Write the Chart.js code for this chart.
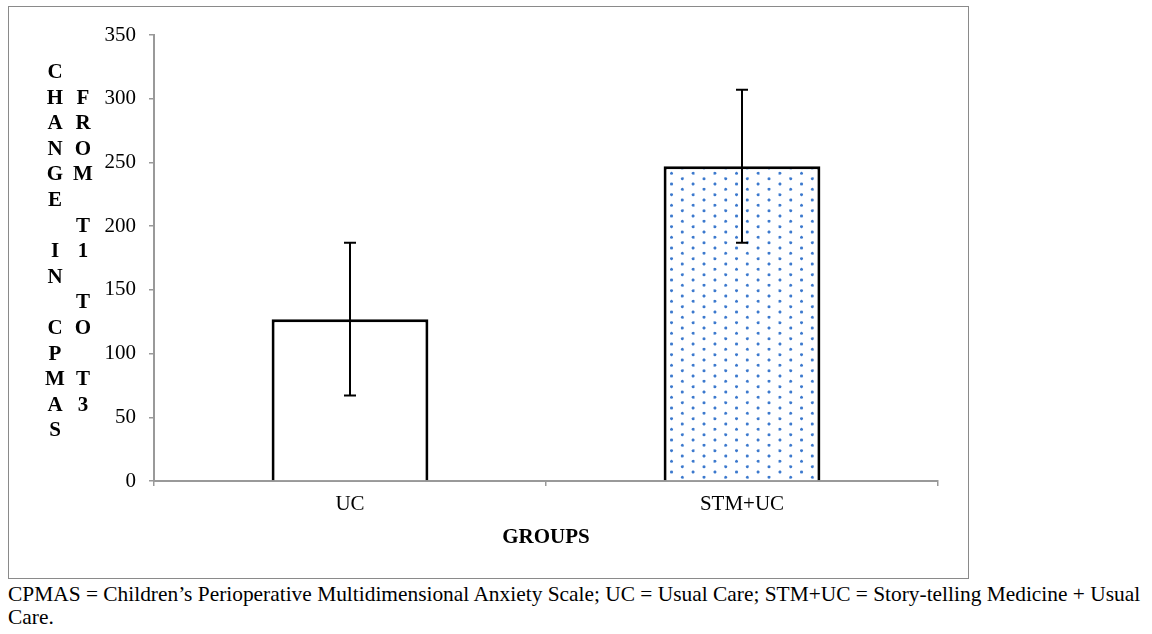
<!DOCTYPE html>
<html>
<head>
<meta charset="utf-8">
<script src="https://cdn.jsdelivr.net/npm/chart.js@4.4.1/dist/chart.umd.min.js"></script>
<style>
  html, body { margin: 0; padding: 0; background: #fff; }
  body { width: 1152px; height: 634px; position: relative; overflow: hidden; font-family: "Liberation Serif", "Times New Roman", serif; }
  #box { position: absolute; left: 8px; top: 6px; width: 961px; height: 573px; border: 1.5px solid #8a8a8a; box-sizing: border-box; }
  #wrap { position: absolute; left: 8px; top: 6px; width: 960px; height: 572px; }
  .stack { position: absolute; font-weight: bold; font-size: 21px; line-height: 25.6px; text-align: center; width: 30px; color: #000; }
  #caption { position: absolute; left: 8px; top: 583px; font-size: 21.4px; line-height: 23px; color: #000; white-space: nowrap; }
</style>
</head>
<body>
<div id="box"></div>
<div id="wrap"><canvas id="c" width="960" height="572"></canvas></div>
<div class="stack" id="col1" style="left:40px; top:59px;"></div>
<div class="stack" id="col2" style="left:68px; top:59px;"></div>
<div id="caption">CPMAS = Children’s Perioperative Multidimensional Anxiety Scale; UC = Usual Care; STM+UC = Story-telling Medicine + Usual<br>Care.</div>
<script>
// ---- data ----
const categories = ['UC', 'STM+UC'];
const meanChange = [127, 247];
const errorSize = [60, 60];
const yTickValues = [0, 50, 100, 150, 200, 250, 300, 350];
const yTitleCol1 = ['C','H','A','N','G','E','','I','N','','C','P','M','A','S'];
const yTitleCol2 = ['','F','R','O','M','','T','1','','T','O','','T','3'];
const xTitle = 'GROUPS';

function fillCol(id, arr) {
  document.getElementById(id).innerHTML = arr.map(s => s === '' ? '&nbsp;' : s).join('<br>');
}
fillCol('col1', yTitleCol1);
fillCol('col2', yTitleCol2);

// dotted pattern
function makeDots() {
  const s = 3;
  const tw = 65, th = 32;
  const c = document.createElement('canvas');
  c.width = tw; c.height = th;
  const g = c.getContext('2d');
  g.fillStyle = '#ffffff';
  g.fillRect(0, 0, tw, th);
  [[8, 6], [8 + 32.5, 6 + 16]].forEach(([x, y]) => {
    g.fillStyle = 'rgba(150,185,230,0.8)';
    g.beginPath(); g.arc(x, y, 5.5, 0, Math.PI * 2); g.fill();
    g.fillStyle = 'rgba(60,120,205,1)';
    g.beginPath(); g.arc(x, y, 3.6, 0, Math.PI * 2); g.fill();
  });
  const ctx = document.getElementById('c').getContext('2d');
  const p = ctx.createPattern(c, 'repeat');
  p.setTransform(new DOMMatrix().scale(1 / s));
  return p;
}
const dots = makeDots();

const errorBars = {
  id: 'errorBars',
  afterDatasetsDraw(chart) {
    const ctx = chart.ctx;
    const y = chart.scales.y;
    const meta = chart.getDatasetMeta(0);
    ctx.save();
    ctx.strokeStyle = '#000';
    ctx.lineWidth = 2;
    meta.data.forEach((bar, i) => {
      const x = bar.x;
      const yt = y.getPixelForValue(meanChange[i] + errorSize[i]);
      const yb = y.getPixelForValue(meanChange[i] - errorSize[i]);
      ctx.beginPath();
      ctx.moveTo(x, yt); ctx.lineTo(x, yb);
      ctx.moveTo(x - 6, yt); ctx.lineTo(x + 6, yt);
      ctx.moveTo(x - 6, yb); ctx.lineTo(x + 6, yb);
      ctx.stroke();
    });
    ctx.restore();
  }
};

new Chart(document.getElementById('c'), {
  type: 'bar',
  data: {
    labels: categories,
    datasets: [{
      data: meanChange,
      backgroundColor: ['#ffffff', dots],
      borderColor: '#000',
      borderWidth: 3,
      borderSkipped: 'start',
      barPercentage: 0.4,
      categoryPercentage: 1.0
    }]
  },
  options: {
    responsive: false,
    animation: false,
    devicePixelRatio: 1,
    layout: { padding: { left: 0, right: 30, top: 29, bottom: 0 } },
    plugins: { legend: { display: false }, tooltip: { enabled: false } },
    scales: {
      x: {
        grid: { display: true, drawOnChartArea: false, drawTicks: true, tickLength: 5, color: '#999', lineWidth: 1.5, offset: true },
        border: { display: true, color: '#999', width: 2 },
        ticks: { color: '#000', font: { family: 'Liberation Serif', size: 21 }, padding: 6 },
        title: { display: true, text: xTitle, color: '#000', font: { family: 'Liberation Serif', size: 21, weight: 'bold' }, padding: { top: 0, bottom: 28 } },
        afterFit(s) { s.height = 97; }
      },
      y: {
        min: 0, max: 350,
        grid: { display: true, drawOnChartArea: false, drawTicks: true, tickLength: 5, color: '#999', lineWidth: 1.5 },
        border: { display: true, color: '#999', width: 2 },
        ticks: { color: '#000', font: { family: 'Liberation Serif', size: 21 }, padding: 13 },
        afterBuildTicks(s) { s.ticks = yTickValues.map(v => ({ value: v })); },
        afterFit(s) { s.width = 146; }
      }
    }
  },
  plugins: [errorBars]
});
</script>
</body>
</html>
